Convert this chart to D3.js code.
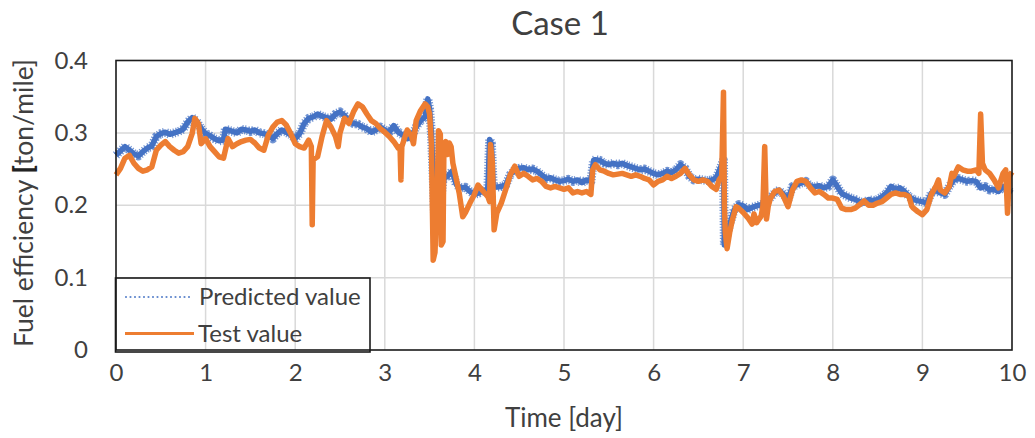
<!DOCTYPE html>
<html>
<head>
<meta charset="utf-8">
<script src="https://cdn.jsdelivr.net/npm/d3@7"></script>
<style>
  html, body { margin: 0; padding: 0; background: #fff; }
  svg text { font-family: Lato, "Open Sans", sans-serif; fill: #404040; }
</style>
</head>
<body>
<svg id="chart" width="1035" height="438"></svg>
<script>
// Predicted fuel efficiency (model output), ton/mile, by elapsed time in days
const predDays = [0.00,0.05,0.10,0.15,0.20,0.25,0.30,0.35,0.40,0.45,0.50,0.55,0.60,0.65,0.70,0.75,0.80,0.85,0.90,0.95,
  1.00,1.05,1.10,1.15,1.20,1.22,1.25,1.30,1.35,1.40,1.45,1.50,1.55,1.60,1.65,1.70,1.75,1.80,1.85,1.90,1.95,
  2.00,2.05,2.10,2.15,2.20,2.25,2.30,2.35,2.40,2.45,2.50,2.55,2.60,2.65,2.70,2.75,2.80,2.85,2.90,2.95,
  3.00,3.05,3.10,3.15,3.20,3.25,3.30,3.35,3.40,3.45,3.48,3.50,3.52,3.54,3.56,3.58,3.60,3.62,3.65,3.70,3.75,3.80,3.85,3.90,3.95,
  4.00,4.05,4.10,4.15,4.17,4.19,4.21,4.25,4.30,4.35,4.40,4.45,4.50,4.55,4.60,4.65,4.70,4.75,4.80,4.85,4.90,4.95,
  5.00,5.05,5.10,5.15,5.20,5.25,5.30,5.33,5.35,5.40,5.45,5.50,5.55,5.60,5.65,5.70,5.75,5.80,5.85,5.90,5.95,
  6.00,6.05,6.10,6.15,6.20,6.25,6.30,6.35,6.40,6.45,6.50,6.55,6.60,6.65,6.70,6.75,6.78,6.79,6.80,6.85,6.90,6.95,
  7.00,7.05,7.10,7.15,7.20,7.25,7.30,7.35,7.40,7.45,7.50,7.55,7.60,7.65,7.70,7.75,7.80,7.85,7.90,7.95,
  8.00,8.05,8.10,8.15,8.20,8.25,8.30,8.35,8.40,8.45,8.50,8.55,8.60,8.65,8.70,8.75,8.80,8.85,8.90,8.95,
  9.00,9.05,9.10,9.15,9.20,9.25,9.30,9.35,9.40,9.45,9.50,9.55,9.60,9.65,9.70,9.75,9.80,9.85,9.90,9.95,10.00];
const predValues = [0.269,0.275,0.281,0.276,0.271,0.268,0.274,0.279,0.282,0.295,0.299,0.301,0.298,0.300,0.302,0.305,0.315,0.321,0.316,0.306,
  0.299,0.296,0.292,0.289,0.290,0.305,0.304,0.302,0.300,0.305,0.304,0.302,0.304,0.300,0.299,0.297,0.292,0.299,0.304,0.301,0.297,
  0.292,0.299,0.313,0.320,0.322,0.326,0.323,0.321,0.319,0.326,0.329,0.324,0.317,0.313,0.312,0.308,0.306,0.301,0.304,0.308,
  0.304,0.301,0.310,0.301,0.297,0.292,0.295,0.308,0.317,0.322,0.347,0.333,0.300,0.240,0.170,0.215,0.240,0.200,0.237,0.240,0.247,0.228,0.224,0.225,0.219,
  0.215,0.217,0.220,0.222,0.291,0.285,0.226,0.225,0.226,0.228,0.242,0.249,0.251,0.252,0.249,0.250,0.247,0.242,0.237,0.238,0.235,0.233,
  0.234,0.236,0.233,0.235,0.231,0.235,0.233,0.262,0.263,0.262,0.258,0.256,0.258,0.256,0.258,0.255,0.253,0.251,0.249,0.250,0.247,
  0.244,0.242,0.244,0.247,0.245,0.249,0.256,0.251,0.240,0.235,0.236,0.235,0.234,0.235,0.238,0.253,0.262,0.145,0.150,0.174,0.194,0.201,
  0.199,0.194,0.197,0.199,0.201,0.203,0.210,0.217,0.221,0.215,0.208,0.226,0.228,0.231,0.233,0.226,0.226,0.227,0.224,0.226,
  0.235,0.226,0.216,0.213,0.210,0.208,0.205,0.203,0.208,0.206,0.208,0.212,0.217,0.226,0.222,0.224,0.219,0.212,0.208,0.206,
  0.205,0.203,0.217,0.221,0.217,0.215,0.226,0.235,0.237,0.235,0.233,0.234,0.233,0.224,0.226,0.221,0.222,0.219,0.226,0.221,0.217];

// Measured fuel efficiency (test), ton/mile
const testDays = [0.00,0.05,0.10,0.15,0.20,0.25,0.30,0.35,0.40,0.45,0.50,0.55,0.60,0.65,0.70,0.75,0.80,0.85,0.88,0.92,0.95,
  1.00,1.05,1.10,1.15,1.20,1.25,1.30,1.35,1.40,1.45,1.50,1.55,1.60,1.65,1.70,1.75,1.80,1.85,1.90,1.95,
  2.00,2.05,2.10,2.15,2.18,2.19,2.20,2.25,2.30,2.35,2.40,2.45,2.48,2.50,2.55,2.60,2.65,2.70,2.75,2.80,2.85,2.90,2.95,
  3.00,3.05,3.10,3.15,3.17,3.18,3.19,3.25,3.30,3.32,3.35,3.40,3.45,3.48,3.50,3.52,3.54,3.56,3.58,3.60,3.62,3.63,3.65,3.66,3.68,3.70,3.72,3.74,3.76,3.80,3.83,3.87,3.90,3.95,
  4.00,4.04,4.10,4.15,4.17,4.18,4.20,4.22,4.25,4.30,4.35,4.40,4.45,4.50,4.55,4.60,4.65,4.70,4.75,4.80,4.85,4.90,4.95,
  5.00,5.05,5.10,5.15,5.20,5.25,5.30,5.32,5.35,5.40,5.45,5.50,5.55,5.60,5.65,5.70,5.75,5.80,5.85,5.90,5.95,
  6.00,6.05,6.10,6.15,6.20,6.25,6.30,6.35,6.40,6.45,6.50,6.55,6.60,6.65,6.70,6.73,6.76,6.78,6.79,6.80,6.82,6.85,6.88,6.92,6.95,
  7.00,7.05,7.10,7.12,7.15,7.20,7.22,7.24,7.26,7.28,7.30,7.35,7.40,7.45,7.50,7.55,7.60,7.65,7.70,7.75,7.80,7.85,7.90,7.95,
  8.00,8.05,8.10,8.15,8.20,8.25,8.30,8.35,8.40,8.45,8.50,8.55,8.60,8.65,8.70,8.75,8.80,8.85,8.88,8.90,8.95,
  9.00,9.05,9.10,9.15,9.18,9.20,9.25,9.30,9.33,9.35,9.40,9.45,9.50,9.55,9.60,9.63,9.65,9.67,9.70,9.75,9.80,9.85,9.90,9.93,9.95,9.97,10.00];
const testValues = [0.242,0.251,0.265,0.269,0.258,0.251,0.247,0.249,0.253,0.276,0.283,0.288,0.281,0.276,0.272,0.274,0.281,0.299,0.320,0.313,0.285,
  0.292,0.281,0.274,0.267,0.265,0.292,0.281,0.285,0.288,0.290,0.291,0.286,0.279,0.276,0.297,0.308,0.315,0.317,0.311,0.299,
  0.285,0.281,0.279,0.290,0.281,0.173,0.263,0.267,0.295,0.317,0.308,0.295,0.281,0.300,0.320,0.313,0.329,0.340,0.336,0.326,0.317,0.313,0.306,
  0.301,0.295,0.288,0.279,0.281,0.235,0.281,0.304,0.295,0.285,0.317,0.331,0.340,0.336,0.326,0.285,0.124,0.135,0.200,0.303,0.298,0.145,0.150,0.285,0.288,0.270,0.286,0.281,0.258,0.235,0.217,0.184,0.190,0.203,
  0.215,0.228,0.219,0.212,0.205,0.284,0.260,0.166,0.189,0.203,0.222,0.242,0.254,0.240,0.244,0.240,0.235,0.237,0.233,0.226,0.224,0.226,0.224,
  0.222,0.224,0.217,0.219,0.217,0.219,0.215,0.249,0.256,0.249,0.247,0.244,0.242,0.243,0.244,0.242,0.240,0.242,0.240,0.237,0.235,
  0.228,0.233,0.235,0.240,0.237,0.240,0.244,0.251,0.242,0.235,0.233,0.235,0.233,0.226,0.222,0.235,0.240,0.356,0.200,0.163,0.140,0.163,0.180,0.198,0.196,
  0.190,0.183,0.174,0.188,0.176,0.185,0.199,0.281,0.181,0.199,0.208,0.219,0.221,0.212,0.198,0.221,0.233,0.235,0.233,0.224,0.217,0.219,0.215,0.210,
  0.210,0.208,0.196,0.194,0.194,0.196,0.201,0.206,0.200,0.200,0.203,0.205,0.210,0.215,0.217,0.215,0.215,0.212,0.199,0.196,0.191,
  0.187,0.194,0.215,0.226,0.235,0.221,0.217,0.226,0.244,0.240,0.253,0.249,0.247,0.247,0.249,0.244,0.326,0.258,0.249,0.244,0.235,0.224,0.244,0.249,0.189,0.240,0.246];

const xTicks = [0,1,2,3,4,5,6,7,8,9,10];
const yTicks = [0,0.1,0.2,0.3,0.4];
const yTickLabels = ["0","0.1","0.2","0.3","0.4"];
const seriesNames = ["Predicted value", "Test value"];
const chartTitle = "Case 1";
const xTitle = "Time [day]";

const BLUE = "#4472C4", ORANGE = "#ED7D31";

const svg = d3.select("#chart");
const plot = { left: 116, right: 1012, top: 60.5, bottom: 350 };

const x = d3.scaleLinear().domain([0, 10]).range([plot.left, plot.right]);
const y = d3.scaleLinear().domain([0, 0.4]).range([plot.bottom, plot.top]);

// gridlines
const grid = svg.append("g");
grid.selectAll("line.v").data(xTicks.slice(1, -1)).join("line")
  .attr("x1", d => x(d)).attr("x2", d => x(d))
  .attr("y1", plot.top).attr("y2", plot.bottom)
  .attr("stroke", "#d9d9d9").attr("stroke-width", 1.5);
grid.selectAll("line.h").data(yTicks.slice(1, -1)).join("line")
  .attr("x1", plot.left).attr("x2", plot.right)
  .attr("y1", d => y(d)).attr("y2", d => y(d))
  .attr("stroke", "#d9d9d9").attr("stroke-width", 1.5);

// series
const pred = predDays.map((d, i) => [d, predValues[i]]);
const test = testDays.map((d, i) => [d, testValues[i]]);
const line = d3.line().x(d => x(d[0])).y(d => y(d[1]));

// predicted: dense dotted markers read as a ragged blue band
svg.append("path").datum(pred)
  .attr("d", line).attr("fill", "none")
  .attr("stroke", BLUE).attr("stroke-width", 9).attr("opacity", 0.75)
  .attr("stroke-dasharray", "1.2 1.6").attr("stroke-linejoin", "round");
svg.append("path").datum(pred)
  .attr("d", line).attr("fill", "none")
  .attr("stroke", BLUE).attr("stroke-width", 5.5)
  .attr("stroke-linejoin", "round");
svg.append("path").datum(test)
  .attr("d", line).attr("fill", "none")
  .attr("stroke", ORANGE).attr("stroke-width", 5.5)
  .attr("stroke-linejoin", "round");

// plot frame
svg.append("rect")
  .attr("x", plot.left).attr("y", plot.top)
  .attr("width", plot.right - plot.left).attr("height", plot.bottom - plot.top)
  .attr("fill", "none").attr("stroke", "#1a1a1a").attr("stroke-width", 1.6);

// axes (labels only, Excel-style)
const xAxis = d3.axisBottom(x).tickValues(xTicks).tickSize(0).tickPadding(14)
  .tickFormat(d3.format("d"));
const gx = svg.append("g").attr("transform", `translate(0,${plot.bottom})`).call(xAxis);
gx.select(".domain").remove();
gx.selectAll("text").attr("font-size", 24).attr("font-family", null).attr("fill", "#404040");

const yAxis = d3.axisLeft(y).tickValues(yTicks).tickSize(0).tickPadding(28)
  .tickFormat((d, i) => yTickLabels[i]);
const gy = svg.append("g").attr("transform", `translate(${plot.left},0)`).call(yAxis);
gy.select(".domain").remove();
gy.selectAll("text").attr("font-size", 24).attr("font-family", null).attr("fill", "#404040");

// titles
svg.append("text").attr("x", 560).attr("y", 35).attr("text-anchor", "middle")
  .attr("font-size", 33).text(chartTitle);
svg.append("text").attr("x", 564).attr("y", 427).attr("text-anchor", "middle")
  .attr("font-size", 26).text(xTitle);
const yt = svg.append("text").attr("transform", "translate(33,203) rotate(-90)")
  .attr("text-anchor", "middle").attr("font-size", 26.5);
yt.append("tspan").text("Fuel efficiency ");
yt.append("tspan").attr("font-weight", 900).attr("fill", "#222").text("[");
yt.append("tspan").text("ton/mile]");

// legend
const lg = svg.append("g");
lg.append("rect").attr("x", 115.5).attr("y", 278).attr("width", 254.5).attr("height", 74)
  .attr("fill", "none").attr("stroke", "#1a1a1a").attr("stroke-width", 1.6);
lg.append("line").attr("x1", 126).attr("x2", 190).attr("y1", 297).attr("y2", 297)
  .attr("stroke", BLUE).attr("stroke-width", 2.2).attr("stroke-dasharray", "0 4.5")
  .attr("stroke-linecap", "round").attr("opacity", 0.85);
lg.append("text").attr("x", 199).attr("y", 305).attr("font-size", 24).text(seriesNames[0]);
lg.append("line").attr("x1", 125).attr("x2", 194).attr("y1", 333.5).attr("y2", 333.5)
  .attr("stroke", ORANGE).attr("stroke-width", 3);
lg.append("text").attr("x", 198).attr("y", 342).attr("font-size", 24).text(seriesNames[1]);
</script>
</body>
</html>
